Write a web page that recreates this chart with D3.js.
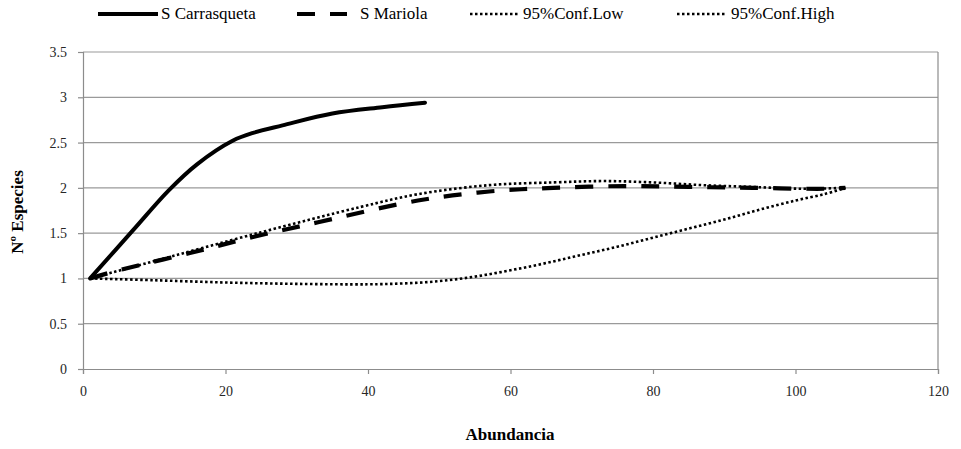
<!DOCTYPE html>
<html>
<head>
<meta charset="utf-8">
<script src="https://cdn.jsdelivr.net/npm/d3@7"></script>
<style>
  html, body { margin: 0; padding: 0; background: #fff; }
  svg text { font-family: "Liberation Serif", "Times New Roman", serif; }
</style>
</head>
<body>
<svg id="chart" width="961" height="449"></svg>
<script>
// Rarefaction curves: species count against abundance
const carrasquetaX = [1, 7, 12, 16, 21, 24, 28, 35, 42, 48];
const carrasquetaY = [1, 1.53, 1.97, 2.26, 2.52, 2.61, 2.69, 2.82, 2.89, 2.94];

const mariolaX = [1, 5, 15, 24, 33, 47, 57, 66, 76, 85, 94, 104, 107];
const mariolaY = [1, 1.09, 1.28, 1.46, 1.62, 1.86, 1.96, 2.0, 2.02, 2.01, 2.0, 1.99, 2.0];

const confLowX = [1, 10, 20, 30, 40, 45, 50, 55, 60, 65, 70, 75, 80, 85, 90, 95, 100, 104, 107];
const confLowY = [1, 0.98, 0.955, 0.94, 0.935, 0.945, 0.97, 1.02, 1.09, 1.17, 1.26, 1.35, 1.45, 1.55, 1.65, 1.76, 1.86, 1.93, 2.0];

const confHighX = [1, 9, 25, 39, 47, 57, 66, 73, 80, 87, 94, 101, 107];
const confHighY = [1, 1.17, 1.51, 1.79, 1.93, 2.03, 2.06, 2.075, 2.06, 2.03, 2.01, 1.99, 2.0];

const seriesNames = ["S Carrasqueta", "S Mariola", "95%Conf.Low", "95%Conf.High"];
const xTicks = [0, 20, 40, 60, 80, 100, 120];
const yTicks = [0, 0.5, 1, 1.5, 2, 2.5, 3, 3.5];

const FONT = "'Liberation Serif', 'Times New Roman', serif";
const svg = d3.select("#chart");
const x = d3.scaleLinear().domain([0, 120]).range([83, 938]);
const y = d3.scaleLinear().domain([0, 3.5]).range([369, 52]);

// horizontal gridlines
svg.append("g").selectAll("line")
  .data(yTicks.filter(v => v > 0))
  .join("line")
  .attr("x1", x(0)).attr("x2", x(120))
  .attr("y1", d => y(d)).attr("y2", d => y(d))
  .attr("stroke", "#9a9a9a").attr("stroke-width", 1.2);

// right border of the plot area
svg.append("line")
  .attr("x1", x(120)).attr("x2", x(120))
  .attr("y1", y(3.5)).attr("y2", y(0))
  .attr("stroke", "#8c8c8c").attr("stroke-width", 1.2);

// axes
const xAxis = d3.axisBottom(x).tickValues(xTicks).tickSize(5).tickPadding(12).tickFormat(d3.format("d"));
const yAxis = d3.axisLeft(y).tickValues(yTicks).tickSize(5).tickPadding(11).tickFormat(d => d);

const gx = svg.append("g").attr("transform", `translate(0,${y(0)})`).call(xAxis);
const gy = svg.append("g").attr("transform", `translate(${x(0)},0)`).call(yAxis);
[gx, gy].forEach(g => {
  g.attr("font-family", FONT).attr("font-size", 14);
  g.select(".domain").attr("stroke", "#8c8c8c").attr("stroke-width", 1.2);
  g.selectAll(".tick line").attr("stroke", "#8c8c8c").attr("stroke-width", 1.2);
  g.selectAll(".tick text").attr("fill", "#262626");
});

// axis titles
svg.append("text")
  .attr("x", 510).attr("y", 440)
  .attr("text-anchor", "middle")
  .attr("font-family", FONT)
  .style("font-weight", "bold").style("font-size", "17px")
  .text("Abundancia");

svg.append("text")
  .attr("transform", "translate(23,212) rotate(-90)")
  .attr("text-anchor", "middle")
  .attr("font-family", FONT)
  .style("font-weight", "bold").style("font-size", "17px")
  .text("Nº Especies");

// series
const styles = [
  { w: 4, dash: null },
  { w: 4.2, dash: "18 15" },
  { w: 2.6, dash: "2.5 2.5" },
  { w: 2.6, dash: "2.5 2.5" }
];
const seriesData = [
  d3.zip(carrasquetaX, carrasquetaY),
  d3.zip(mariolaX, mariolaY),
  d3.zip(confLowX, confLowY),
  d3.zip(confHighX, confHighY)
];

const line = d3.line()
  .x(d => x(d[0]))
  .y(d => y(d[1]))
  .curve(d3.curveCatmullRom.alpha(0.5));

// dotted bounds first, then the dashed and solid curves on top
[2, 3, 1, 0].forEach(i => {
  svg.append("path")
    .datum(seriesData[i])
    .attr("d", line)
    .attr("fill", "none")
    .attr("stroke", "#000")
    .attr("stroke-width", styles[i].w)
    .attr("stroke-linejoin", "round")
    .attr("stroke-linecap", styles[i].dash ? "butt" : "round")
    .attr("stroke-dasharray", styles[i].dash);
});

// legend
const legendItems = [
  { x1: 98, x2: 158, tx: 161 },
  { x1: 297, x2: 347, tx: 360 },
  { x1: 470, x2: 520, tx: 523 },
  { x1: 677, x2: 727, tx: 731 }
];
const lg = svg.append("g");
legendItems.forEach((it, i) => {
  lg.append("line")
    .attr("x1", it.x1).attr("x2", it.x2)
    .attr("y1", 14).attr("y2", 14)
    .attr("stroke", "#000")
    .attr("stroke-width", styles[i].w)
    .attr("stroke-dasharray", styles[i].dash);
  lg.append("text")
    .attr("x", it.tx).attr("y", 19)
    .attr("font-family", FONT)
    .style("font-size", "17px")
    .text(seriesNames[i]);
});
</script>
</body>
</html>
